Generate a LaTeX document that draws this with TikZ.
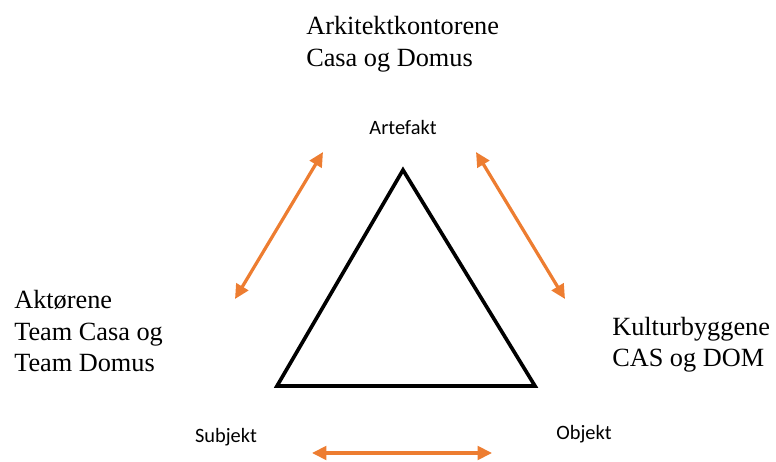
\documentclass[tikz,border=0pt]{standalone}
\usepackage{fontspec}
\setmainfont{Liberation Serif}
\newfontfamily\calfont{Carlito}
\usetikzlibrary{arrows.meta}
\definecolor{pilorange}{HTML}{ED7D31}
\begin{document}
\begin{tikzpicture}[
	lbl/.style={align=left,inner sep=0pt,anchor=west,font=\fontsize{18.7}{22.5}\selectfont},
	tag/.style={inner sep=0pt,font=\calfont\fontsize{14.5}{17}\selectfont},
	pil/.style={pilorange,line width=2.3pt,{Triangle[length=0.36cm,width=0.34cm]}-{Triangle[length=0.36cm,width=0.34cm]}}
	]
	\useasboundingbox (0,0) rectangle (19.4,11.55);

	% trekanten
	\coordinate (topp) at (10.075,7.3);
	\coordinate (vhj) at (6.925,1.9);
	\coordinate (hhj) at (13.375,1.9);
	\draw [line width=2.6pt,line join=miter] (topp) -- (vhj) -- (hhj) -- cycle;

	% tekster
	\node[lbl] (arki) at (7.65,10.45) {Arkitektkontorene\\Casa og Domus};
	\node[lbl] (akt) at (0.35,3.27) {Aktørene\\Team Casa og\\Team Domus};
	\node[lbl] (kult) at (15.3,2.93) {Kulturbyggene\\CAS og DOM};

	\node[tag] (art) at (10.075,8.35) {Artefakt};
	\node[tag] (subj) at (5.65,0.62) {Subjekt};
	\node[tag] (obj) at (14.6,0.7) {Objekt};

	% piler
	\coordinate (v1) at (8.075,7.75);
	\coordinate (v2) at (5.875,4.075);
	\coordinate (h1) at (11.9,7.75);
	\coordinate (h2) at (14.125,4.075);
	\coordinate (b1) at (7.8,0.225);
	\coordinate (b2) at (12.3,0.225);
	\draw [pil] (v1) -- (v2);
	\draw [pil] (h1) -- (h2);
	\draw [pil] (b1) -- (b2);
\end{tikzpicture}
\end{document}
